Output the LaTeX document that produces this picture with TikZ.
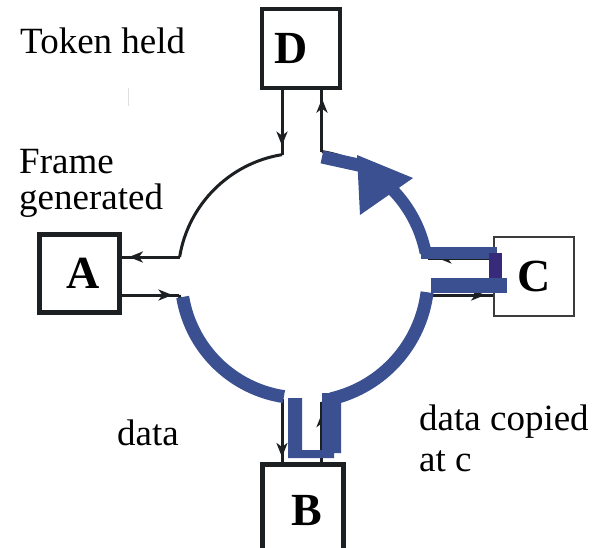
\documentclass[tikz,border=0pt]{standalone}
\usepackage{fontspec}
\setmainfont{Liberation Serif}
\usetikzlibrary{arrows.meta,decorations.markings,calc}
\definecolor{ringblue}{RGB}{58,80,145}
\definecolor{ringpurple}{RGB}{56,42,122}
\definecolor{ink}{RGB}{28,32,34}
\definecolor{boxgray}{RGB}{60,60,60}
\tikzset{
  station/.style={draw=ink, fill=white, inner sep=0pt, font=\fontsize{46}{46}\selectfont\rmfamily\bfseries},
  link/.style={draw=ink, color=ink, line width=3pt},
  midarrow/.style={postaction={decorate}, decoration={markings, mark=at position #1 with {\arrow{Stealth[length=14pt,width=11pt,inset=4pt]}}}},
  blueband/.style={draw=ringblue, line width=13pt, line cap=butt},
  caption/.style={font=\fontsize{37}{37}\selectfont\rmfamily, anchor=base west, inner sep=0pt, text=black},
}
\begin{document}
\begin{tikzpicture}[x=1pt,y=-1pt]
\useasboundingbox (0,0) rectangle (595,547);
\clip (0,0) rectangle (595,547);
\fill[white] (0,0) rectangle (595,547);

% texts
\node[caption] (token) at (20,53) {Token held};
\node[caption] (frame1) at (19,173) {Frame};
\node[caption] (frame2) at (19,209) {generated};
\node[caption] (data) at (117,445) {data};
\node[caption] (copied1) at (419,430) {data copied};
\node[caption] (copied2) at (419,471) {at c};
\draw[gray!25, line width=1pt] (128,88) -- (128,106);

% stations
\node[station, line width=4pt, minimum width=78pt, minimum height=79pt] (D) at (301,48.5) {D\rule{20pt}{0pt}};
\node[station, line width=5pt, minimum width=80pt, minimum height=78pt] (A) at (79.5,273.5) {\rule{8pt}{0pt}A};
\node[station, line width=5pt, minimum width=81pt, minimum height=91pt] (B) at (303,510) {\rule{8pt}{0pt}B};
\node[station, draw=boxgray, line width=2pt, minimum width=80pt, minimum height=79pt] (C) at (534,276.5) {C};

% ring centre and junctions
\coordinate (ctr) at (302,277);
\coordinate (ctrb) at (303,277);
\coordinate (tl) at ($(ctr)+(99.28:124pt)$);
\coordinate (lt) at ($(ctr)+(170.72:124pt)$);
\coordinate (lb) at ($(ctr)+(188.35:124pt)$);
\coordinate (bl) at ($(ctr)+(260.72:124pt)$);
\coordinate (br) at ($(ctr)+(279.05:127pt)$);
\coordinate (rb) at ($(ctr)+(351.85:127pt)$);
\coordinate (rt) at ($(ctr)+(8.60:127pt)$);
\coordinate (tr) at ($(ctr)+(80.94:127pt)$);

% black ring
\draw[link] (tl) arc[start angle=99.28,end angle=170.72,radius=124pt];
\draw[link] (lb) arc[start angle=188.35,end angle=260.72,radius=124pt];
\draw[link] (br) arc[start angle=279.05,end angle=351.85,radius=127pt];
\draw[link] (rt) arc[start angle=8.60,end angle=80.94,radius=127pt];

% stubs
\draw[link, midarrow=0.86] (D.south -| tl) -- (tl);
\draw[link, midarrow=0.86] (tr) -- (D.south -| tr);
\draw[link, midarrow=0.88] (lt) -- (A.east |- lt);
\draw[link, midarrow=0.88] (A.east |- lb) -- (lb);
\draw[link, midarrow=0.92] (bl) -- (B.north -| bl);
\draw[link, midarrow=0.82] (B.north -| br) -- (br);
\draw[link, midarrow=0.85] (C.west |- rt) -- (rt);
\draw[link, midarrow=0.88] (rb) -- (C.west |- rb);

% blue overlay (frame path)
\draw[blueband] ($(ctr)+(189.5:121pt)$) arc[start angle=189.5,end angle=261.4,radius=121pt];
\fill[ringblue] (288,398) -- (302,398) -- (302,450) -- (322,450) -- (322,393) -- (341,393) -- (341,453) -- (334,453) -- (334,458) -- (288,458) -- cycle;
\draw[blueband] ($(ctrb)+(283:125pt)$) arc[start angle=283,end angle=353,radius=125pt];
\fill[ringblue] (431,278) rectangle (507,293);
\fill[ringblue] (421,247) rectangle (497,259);
\fill[ringpurple] (489,253) rectangle (502,278);
\draw[blueband, line width=12pt] ($(ctrb)+(11.07:125pt)$) arc[start angle=11.07,end angle=47,radius=125pt];
\fill[ringblue] (357,155) -- (413,178) -- (360,215) -- cycle;
\draw[blueband] (322,157) -- (363,166);
\end{tikzpicture}
\end{document}
